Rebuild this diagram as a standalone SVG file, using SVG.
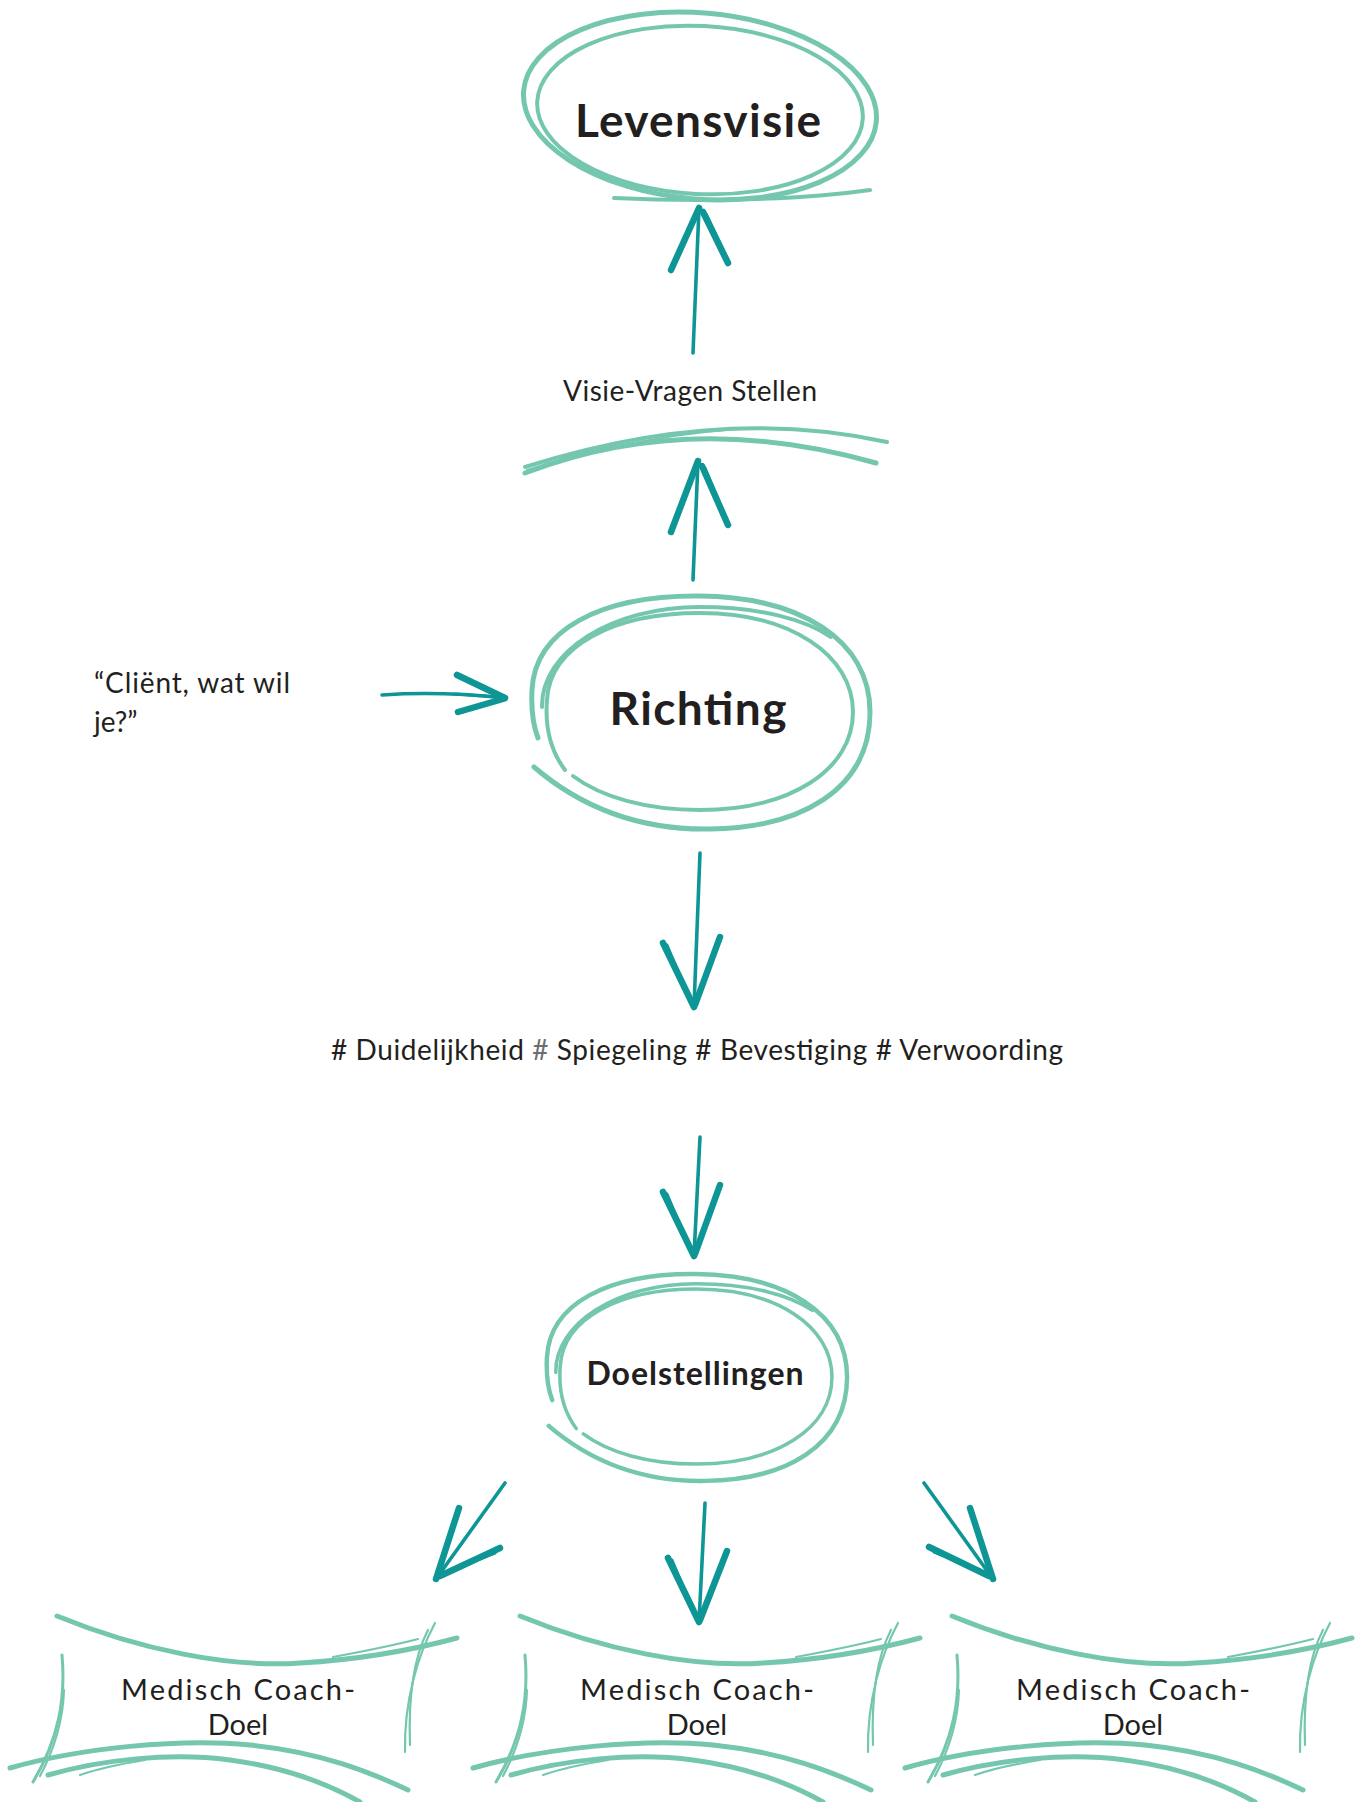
<svg xmlns="http://www.w3.org/2000/svg" xmlns:xlink="http://www.w3.org/1999/xlink" width="1362" height="1802" viewBox="0 0 1362 1802">
<style>
.ring{fill:none;stroke:#74C7AE;stroke-linecap:round;stroke-linejoin:round}
.w5{stroke-width:5}.w4{stroke-width:4}.w3{stroke-width:3}.w2{stroke-width:2.2}
.arr{fill:none;stroke:#0D9695;stroke-linecap:round;stroke-linejoin:round}
.shaft{stroke-width:3.6}
.barb{stroke-width:6.5}
.barb2{stroke-width:3}
.t{font-family:Lato,"Liberation Sans",sans-serif;fill:#231F20}
.b{font-weight:bold}
.mid{text-anchor:middle}
</style>
<defs>
<g id="spiral">
<path class="ring w5" d="M-167,55 C-111,103 -51,118 9,117 C99,116 169,78 169,0 C169,-72 99,-115 -1,-116 C-101,-117 -166,-82 -169,-22 C-170,-2 -168,13 -163,26"/>
<path class="ring w4" d="M-159,-5 C-160,-60 -90,-105 -1,-105 C60,-105 105,-92 130,-75"/>
<path class="ring w4" d="M-136,58 C-151,38 -156,13 -154,-12 C-151,-67 -86,-99 -1,-99 C89,-99 152,-57 152,0 C152,58 89,98 -1,98 C-55,98 -100,85 -128,64"/>
</g>
<g id="boxshape">
<path class="ring w5" d="M57,1616 C140,1650 230,1668 300,1663 C370,1659 420,1648 457,1638"/>
<path class="ring w2" d="M333,1657 C360,1652 395,1645 418,1639"/>
<path class="ring w2" d="M435,1623 C418,1655 404,1700 405,1752"/>
<path class="ring w2" d="M428,1630 C415,1655 408,1690 410,1745"/>
<path class="ring w3" d="M62,1655 C66,1700 58,1740 33,1782"/>
<path class="ring w2" d="M64,1690 C63,1720 55,1748 40,1776"/>
<path class="ring w5" d="M10,1768 C80,1748 180,1738 250,1745 C320,1752 370,1772 408,1790"/>
<path class="ring w5" d="M48,1775 C100,1760 170,1752 230,1760 C290,1768 330,1785 360,1802"/>
<path class="ring w2" d="M80,1775 C100,1768 120,1764 145,1760"/>
</g>
</defs>
<rect width="1362" height="1802" fill="#ffffff"/>

<g id="node-levensvisie">
<ellipse class="ring w5" cx="700" cy="106" rx="177" ry="93" transform="rotate(5 700 106)"/>
<ellipse class="ring w4" cx="700" cy="110" rx="163" ry="84" transform="rotate(3 700 110)"/>
<path class="ring w4" d="M614,198 C700,202 800,200 870,190"/>
<text class="t b mid" x="698" y="137" font-size="46" textLength="246">Levensvisie</text>
</g>

<g id="node-visie-vragen">
<text class="t mid" x="690" y="401" font-size="28" textLength="254">Visie-Vragen Stellen</text>
<path class="ring w4" d="M525,467 Q720,405 887,442"/>
<path class="ring w5" d="M525,473 Q690,410 876,463"/>
<path class="ring w2" d="M527,470 Q650,432 760,428"/>
</g>

<g id="node-client">
<text class="t" font-size="28"><tspan x="94" y="693" textLength="196">“Cliënt, wat wil</tspan><tspan x="94" y="732">je?”</tspan></text>
</g>

<g id="node-richting">
<use xlink:href="#spiral" transform="translate(701,712)"/>
<text class="t b mid" x="698" y="725" font-size="46" textLength="177">Richting</text>
</g>

<g id="node-kenmerken">
<text class="t mid" x="697" y="1060" font-size="28" textLength="732"># Duidelijkheid <tspan fill="#6d6e71">#</tspan> Spiegeling # Bevestiging # Verwoording</text>
</g>

<g id="node-doelstellingen">
<use xlink:href="#spiral" transform="translate(697,1377) scale(0.888)"/>
<text class="t b mid" x="695" y="1385" font-size="32" textLength="217">Doelstellingen</text>
</g>

<g id="node-doel-1">
<use xlink:href="#boxshape"/>
<text class="t mid" font-size="29"><tspan x="238" y="1700" textLength="234">Medisch Coach-</tspan><tspan x="238" y="1735">Doel</tspan></text>
</g>
<g id="node-doel-2">
<use xlink:href="#boxshape" transform="translate(463,0)"/>
<text class="t mid" font-size="29"><tspan x="697" y="1700" textLength="234">Medisch Coach-</tspan><tspan x="697" y="1735">Doel</tspan></text>
</g>
<g id="node-doel-3">
<use xlink:href="#boxshape" transform="translate(895,0)"/>
<text class="t mid" font-size="29"><tspan x="1133" y="1700" textLength="234">Medisch Coach-</tspan><tspan x="1133" y="1735">Doel</tspan></text>
</g>

<g id="connectors">
<g id="a1">
<path class="arr shaft" d="M693,353 L699,208"/>
<path class="arr barb" d="M671,270 L699,208 M728,263 L703,212"/>
<path class="arr barb2" d="M706,214 L728,260"/>
</g>
<g id="a2">
<path class="arr shaft" d="M693,580 L698,461"/>
<path class="arr barb" d="M671,532 L698,461 M728,525 L702,466"/>
<path class="arr barb2" d="M705,468 L727,522"/>
</g>
<g id="a3">
<path class="arr shaft" d="M382,695 Q440,691 505,698"/>
<path class="arr barb" d="M457,675 L505,698 M458,712 L503,699"/>
<path class="arr barb2" d="M455,694 L498,697"/>
</g>
<g id="a4">
<path class="arr shaft" d="M700,853 L694,1007"/>
<path class="arr barb" d="M663,943 L694,1007 M720,937 L695,1005"/>
<path class="arr barb2" d="M667,945 L690,1000"/>
</g>
<g id="a5">
<path class="arr shaft" d="M700,1137 L694,1256"/>
<path class="arr barb" d="M663,1192 L694,1256 M720,1185 L695,1254"/>
<path class="arr barb2" d="M667,1194 L690,1249"/>
</g>
<g id="a6">
<path class="arr shaft" d="M505,1483 L436,1579"/>
<path class="arr barb" d="M459,1508 L436,1579 M500,1548 L440,1576"/>
<path class="arr barb2" d="M495,1553 L449,1571"/>
</g>
<g id="a7">
<path class="arr shaft" d="M705,1503 L699,1622"/>
<path class="arr barb" d="M668,1558 L699,1622 M727,1551 L700,1620"/>
<path class="arr barb2" d="M672,1560 L695,1615"/>
</g>
<g id="a8">
<path class="arr shaft" d="M924,1483 L993,1579"/>
<path class="arr barb" d="M970,1508 L993,1579 M929,1547 L989,1576"/>
<path class="arr barb2" d="M934,1552 L980,1570"/>
</g>
</g>
</svg>
